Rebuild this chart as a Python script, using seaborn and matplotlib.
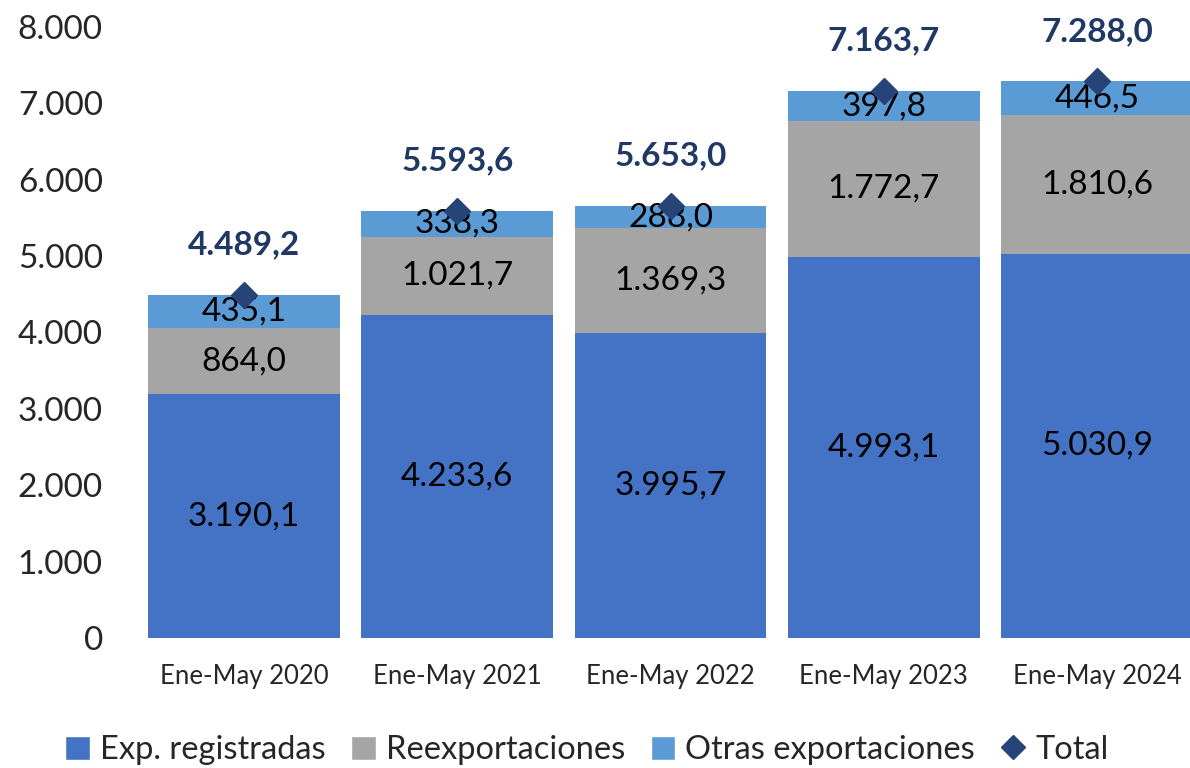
import matplotlib
matplotlib.use("Agg")
import matplotlib.pyplot as plt
import seaborn as sns
import pandas as pd
import numpy as np
from matplotlib.lines import Line2D
from matplotlib.patches import Patch

categories = ["Ene-May 2020", "Ene-May 2021", "Ene-May 2022", "Ene-May 2023", "Ene-May 2024"]
exp_registradas = [3190.1, 4233.6, 3995.7, 4993.1, 5030.9]
reexportaciones = [864.0, 1021.7, 1369.3, 1772.7, 1810.6]
otras_exportaciones = [435.1, 338.3, 288.0, 397.8, 446.5]
total = [4489.2, 5593.6, 5653.0, 7163.7, 7288.0]
y_ticks = [0, 1000, 2000, 3000, 4000, 5000, 6000, 7000, 8000]

c_exp = "#4472C4"
c_reex = "#A5A5A5"
c_otras = "#5B9BD5"
c_total = "#264478"
c_total_lbl = "#203864"

def fmt(v, dec=1):
    s = f"{v:,.{dec}f}"
    return s.replace(",", "X").replace(".", ",").replace("X", ".")

sns.set_theme(style="white")
plt.rcParams["font.family"] = ["Lato", "DejaVu Sans"]

df = pd.DataFrame({
    "cat": categories,
    "exp": exp_registradas,
    "reex": reexportaciones,
    "otras": otras_exportaciones,
    "total": total,
})
df["lvl1"] = df["exp"]
df["lvl2"] = df["exp"] + df["reex"]
df["lvl3"] = df["lvl2"] + df["otras"]

fig = plt.figure(figsize=(11.9, 7.68), dpi=100)
ax = fig.add_axes([125 / 1190, 130 / 768, (1190 - 125) / 1190, 611 / 768])

sns.barplot(data=df, x="cat", y="lvl3", color=c_otras, saturation=1, width=0.9, ax=ax)
sns.barplot(data=df, x="cat", y="lvl2", color=c_reex, saturation=1, width=0.9, ax=ax)
sns.barplot(data=df, x="cat", y="lvl1", color=c_exp, saturation=1, width=0.9, ax=ax)

for p in ax.patches:
    p.set_linewidth(0)

xs = np.arange(len(categories))
for i in xs:
    b1 = exp_registradas[i]
    b2 = b1 + reexportaciones[i]
    b3 = b2 + otras_exportaciones[i]
    ax.text(i, b1 / 2, fmt(exp_registradas[i]), ha="center", va="center", fontsize=24, color="black")
    ax.text(i, (b1 + b2) / 2, fmt(reexportaciones[i]), ha="center", va="center", fontsize=24, color="black")
    ax.text(i, (b2 + b3) / 2, fmt(otras_exportaciones[i]), ha="center", va="center", fontsize=24, color="black")

ax.plot(xs, total, linestyle="none", marker="D", markersize=13, color=c_total, zorder=5)
for i in xs:
    ax.annotate(fmt(total[i]), (i, total[i]), xytext=(0, 36), textcoords="offset points",
                ha="center", va="center", fontsize=24, fontweight="bold", color=c_total_lbl)

ax.set_xlim(-0.558, 4.436)
ax.set_ylim(0, 8000)
ax.set_yticks(y_ticks)
ax.set_yticklabels([fmt(t, 0) for t in y_ticks], fontsize=24)
ax.set_xticks(xs)
ax.set_xticklabels(categories, fontsize=18.5)
ax.tick_params(axis="y", length=0, pad=16)
ax.tick_params(axis="x", length=0, pad=19)
ax.set_xlabel("")
ax.set_ylabel("")
for s in ax.spines.values():
    s.set_visible(False)

handles = [
    Patch(facecolor=c_exp, label="Exp. registradas"),
    Patch(facecolor=c_reex, label="Reexportaciones"),
    Patch(facecolor=c_otras, label="Otras exportaciones"),
    Line2D([0], [0], marker="D", linestyle="none", color=c_total, markersize=12, label="Total"),
]
fig.legend(handles=handles, loc="center", bbox_to_anchor=(587 / 1190, 1 - 750 / 768), ncol=4,
           frameon=False, fontsize=23.5, handlelength=0.75, handleheight=0.75, handletextpad=0.3,
           columnspacing=0.8)

fig.savefig("out.png", dpi=100)
